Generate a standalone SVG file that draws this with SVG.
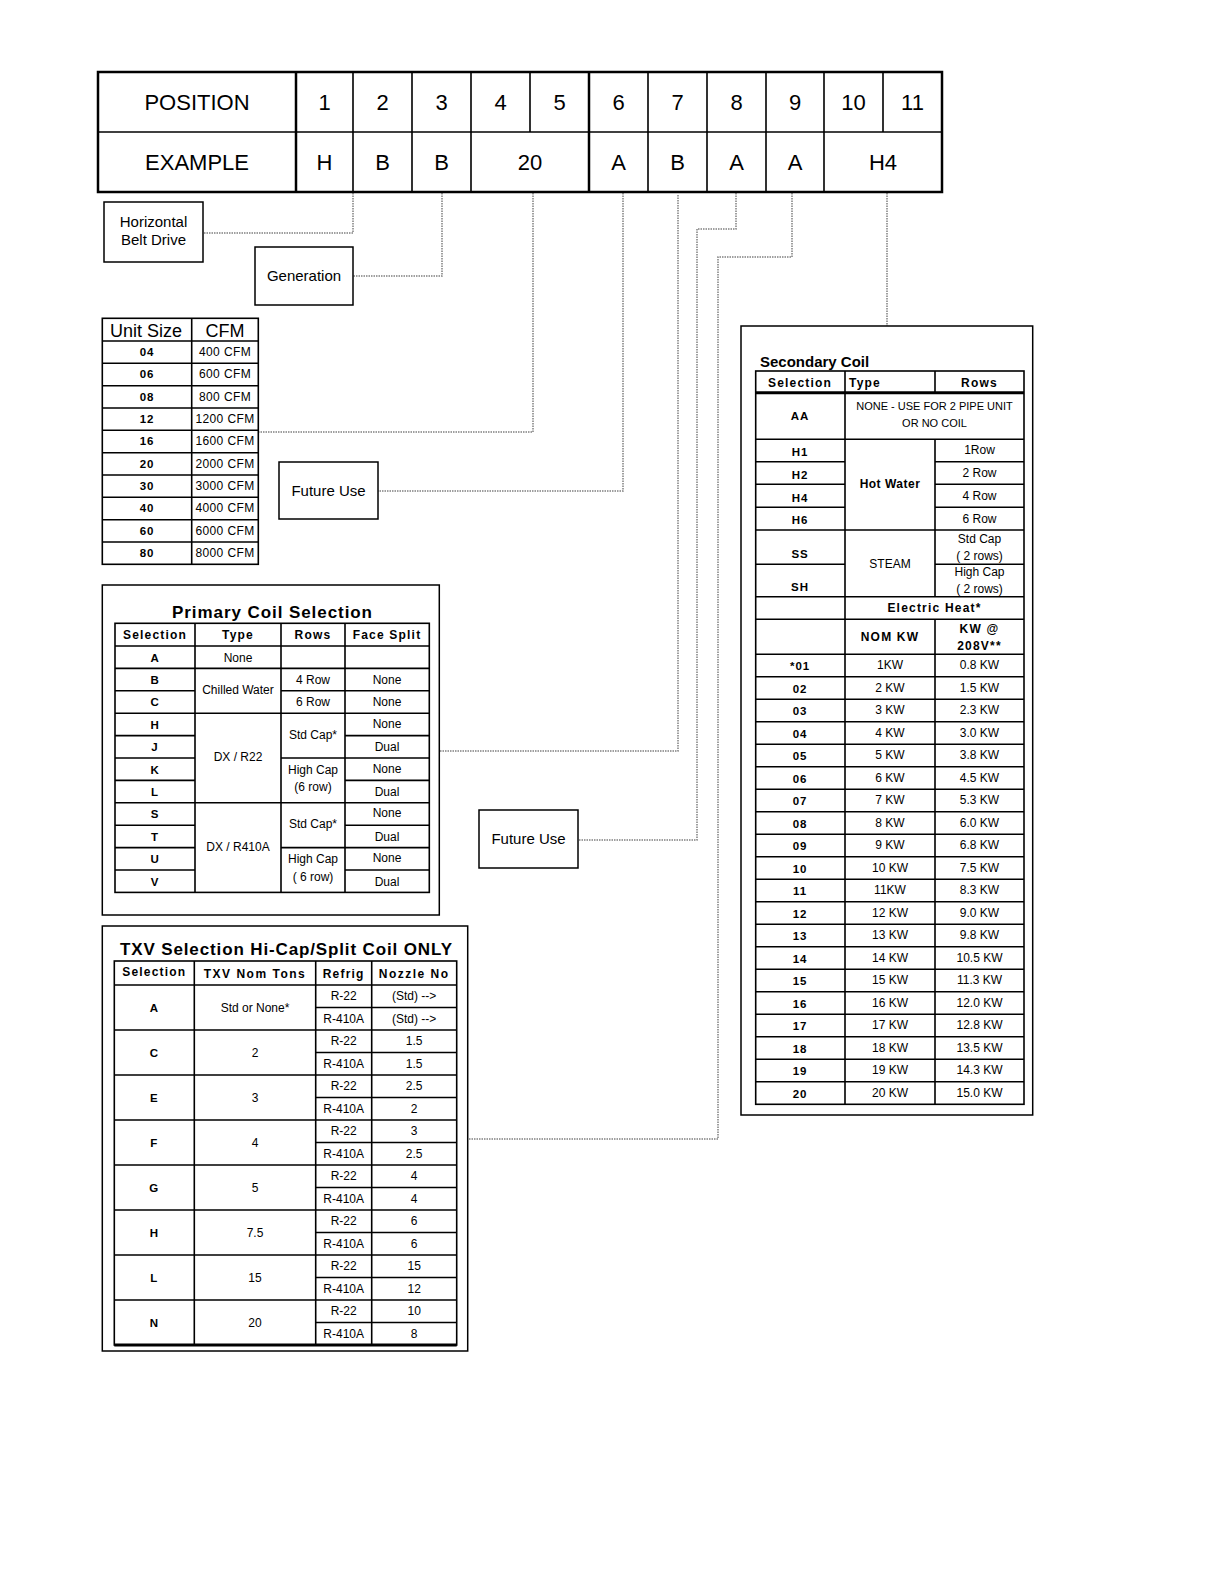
<svg xmlns="http://www.w3.org/2000/svg" width="1225" height="1585" viewBox="0 0 1225 1585">
<style>
text { font-family: "Liberation Sans", Arial, sans-serif; fill: #000; text-anchor: middle; }
.big { font-size: 22px; }
.box { font-size: 15px; }
.hdr { font-size: 12px; font-weight: bold; letter-spacing: 1.2px; }
.sel { font-size: 11.5px; font-weight: bold; letter-spacing: 0.9px; }
.d { font-size: 12px; }
.gray { fill: #555; }
.ttl { font-size: 17px; font-weight: bold; }
.frame { fill: none; stroke: #000; stroke-width: 1.5; }
.thick { fill: none; stroke: #000; stroke-width: 2.5; }
.g { fill: none; stroke: #000; stroke-width: 1.6; }
.conn { fill: none; stroke: #808080; stroke-width: 1.5; stroke-dasharray: 1.5 1; }
</style>

<g id="connectors">
  <path class="conn" d="M353,193 V233 H203"/>
  <path class="conn" d="M442,193 V276 H353"/>
  <path class="conn" d="M533,193 V432 H259"/>
  <path class="conn" d="M623,193 V491 H378"/>
  <path class="conn" d="M678,195 V751 H439"/>
  <path class="conn" d="M736,193 V229 H697 V840 H579"/>
  <path class="conn" d="M792,193 V257 H718 V1139 H468"/>
  <path class="conn" d="M887,193 V326"/>
</g>

<g id="position-table">
  <rect class="thick" x="98" y="72" width="844" height="120"/>
  <line class="g" x1="98" y1="132" x2="942" y2="132"/>
  <line class="thick" x1="296" y1="72" x2="296" y2="192"/>
  <line class="thick" x1="589" y1="72" x2="589" y2="192"/>
  <path class="g" d="M353,72 V192 M412,72 V192 M471,72 V192 M530,72 V132 M648,72 V192 M707,72 V192 M766,72 V192 M824,72 V192 M883,72 V132"/>
  <text class="big" x="197" y="110">POSITION</text>
  <text class="big" x="324.5" y="110">1</text>
  <text class="big" x="382.5" y="110">2</text>
  <text class="big" x="441.5" y="110">3</text>
  <text class="big" x="500.5" y="110">4</text>
  <text class="big" x="559.5" y="110">5</text>
  <text class="big" x="618.5" y="110">6</text>
  <text class="big" x="677.5" y="110">7</text>
  <text class="big" x="736.5" y="110">8</text>
  <text class="big" x="795" y="110">9</text>
  <text class="big" x="853.5" y="110">10</text>
  <text class="big" x="912.5" y="110">11</text>
  <text class="big" x="197" y="170">EXAMPLE</text>
  <text class="big" x="324.5" y="170">H</text>
  <text class="big" x="382.5" y="170">B</text>
  <text class="big" x="441.5" y="170">B</text>
  <text class="big" x="530" y="170">20</text>
  <text class="big" x="618.5" y="170">A</text>
  <text class="big" x="677.5" y="170">B</text>
  <text class="big" x="736.5" y="170">A</text>
  <text class="big" x="795" y="170">A</text>
  <text class="big" x="883" y="170">H4</text>
</g>

<g id="horizontal-belt-drive">
  <rect class="frame" x="104" y="202" width="99" height="60"/>
  <text class="box" x="153.5" y="227">Horizontal</text>
  <text class="box" x="153.5" y="245">Belt Drive</text>
</g>

<g id="generation">
  <rect class="frame" x="255" y="247" width="98" height="58"/>
  <text class="box" x="304" y="281">Generation</text>
</g>

<g id="future-use-1">
  <rect class="frame" x="279" y="462" width="99" height="57"/>
  <text class="box" x="328.5" y="496">Future Use</text>
</g>

<g id="future-use-2">
  <rect class="frame" x="479" y="810" width="99" height="58"/>
  <text class="box" x="528.5" y="844">Future Use</text>
</g>

<g id="unit-size-table">
  <rect class="g" x="102.3" y="318.3" width="156" height="246"/>
  <line class="g" x1="191.7" y1="318.3" x2="191.7" y2="564.3"/>
  <path class="g" d="M102.3,341 H258.3 M102.3,363.3 H258.3 M102.3,385.7 H258.3 M102.3,408 H258.3 M102.3,430.3 H258.3 M102.3,452.7 H258.3 M102.3,475 H258.3 M102.3,497.3 H258.3 M102.3,519.7 H258.3 M102.3,542 H258.3"/>
  <text x="146" y="337" style="font-size:18px">Unit Size</text>
  <text x="225" y="337" style="font-size:18px">CFM</text>
  <g class="sel">
    <text x="147" y="356">04</text>
    <text x="147" y="378.3">06</text>
    <text x="147" y="400.7">08</text>
    <text x="147" y="423">12</text>
    <text x="147" y="445.3">16</text>
    <text x="147" y="467.7">20</text>
    <text x="147" y="490">30</text>
    <text x="147" y="512.3">40</text>
    <text x="147" y="534.7">60</text>
    <text x="147" y="557">80</text>
  </g>
  <g class="d gray" style="letter-spacing:0.4px">
    <text x="225" y="356">400 CFM</text>
    <text x="225" y="378.3">600 CFM</text>
    <text x="225" y="400.7">800 CFM</text>
    <text x="225" y="423">1200 CFM</text>
    <text x="225" y="445.3">1600 CFM</text>
    <text x="225" y="467.7">2000 CFM</text>
    <text x="225" y="490">3000 CFM</text>
    <text x="225" y="512.3">4000 CFM</text>
    <text x="225" y="534.7">6000 CFM</text>
    <text x="225" y="557">8000 CFM</text>
  </g>
</g>

<g id="primary-coil">
  <rect class="frame" x="102.3" y="585" width="337" height="330"/>
  <text class="ttl" x="272" y="618" textLength="200">Primary Coil Selection</text>
  <rect class="g" x="115" y="623.3" width="314.3" height="269.1"/>
  <path class="g" d="M195,623.3 V892.4 M281,623.3 V892.4 M345,623.3 V892.4"/>
  <path class="g" d="M115,646 H429.3 M115,668.4 H429.3 M115,690.8 H195 M281,690.8 H429.3 M115,713.2 H429.3 M115,735.6 H195 M345,735.6 H429.3 M115,758 H195 M281,758 H429.3 M115,780.4 H195 M345,780.4 H429.3 M115,802.8 H429.3 M115,825.2 H195 M345,825.2 H429.3 M115,847.6 H195 M281,847.6 H429.3 M115,870 H195 M345,870 H429.3"/>
  <g class="hdr">
    <text x="155" y="639">Selection</text>
    <text x="238" y="639">Type</text>
    <text x="313" y="639">Rows</text>
    <text x="387" y="639">Face Split</text>
  </g>
  <g class="sel">
    <text x="155" y="661.5">A</text>
    <text x="155" y="683.9">B</text>
    <text x="155" y="706.3">C</text>
    <text x="155" y="728.7">H</text>
    <text x="155" y="751.1">J</text>
    <text x="155" y="773.5">K</text>
    <text x="155" y="795.9">L</text>
    <text x="155" y="818.3">S</text>
    <text x="155" y="840.7">T</text>
    <text x="155" y="863.1">U</text>
    <text x="155" y="885.5">V</text>
  </g>
  <g class="d">
    <text x="238" y="661.5">None</text>
    <text x="238" y="694">Chilled Water</text>
    <text x="238" y="761">DX / R22</text>
    <text x="238" y="851">DX / R410A</text>
    <text x="313" y="683.9">4 Row</text>
    <text x="313" y="706.3">6 Row</text>
    <text x="313" y="739">Std Cap*</text>
    <text x="313" y="774">High Cap</text>
    <text x="313" y="791">(6 row)</text>
    <text x="313" y="828">Std Cap*</text>
    <text x="313" y="863">High Cap</text>
    <text x="313" y="881">( 6 row)</text>
    <text x="387" y="683.9">None</text>
    <text x="387" y="706.3">None</text>
    <text x="387" y="727.5">None</text>
    <text x="387" y="751.1">Dual</text>
    <text x="387" y="772.5">None</text>
    <text x="387" y="795.9">Dual</text>
    <text x="387" y="817">None</text>
    <text x="387" y="840.7">Dual</text>
    <text x="387" y="862">None</text>
    <text x="387" y="885.5">Dual</text>
  </g>
</g>

<g id="txv-selection">
  <rect class="frame" x="102.3" y="926" width="365.4" height="425"/>
  <text class="ttl" x="286" y="955" textLength="332">TXV Selection Hi-Cap/Split Coil ONLY</text>
  <rect class="g" x="114.3" y="961" width="342.4" height="384"/>
  <line x1="114.3" y1="1345" x2="456.7" y2="1345" stroke="#000" stroke-width="3"/>
  <path class="g" d="M194.3,961 V1345 M315.7,961 V1345 M371.7,961 V1345"/>
  <path class="g" d="M114.3,985 H456.7 M114.3,1030 H456.7 M114.3,1075 H456.7 M114.3,1120 H456.7 M114.3,1165 H456.7 M114.3,1210 H456.7 M114.3,1255 H456.7 M114.3,1300 H456.7"/>
  <path class="g" d="M315.7,1007.5 H456.7 M315.7,1052.5 H456.7 M315.7,1097.5 H456.7 M315.7,1142.5 H456.7 M315.7,1187.5 H456.7 M315.7,1232.5 H456.7 M315.7,1277.5 H456.7 M315.7,1322.5 H456.7"/>
  <g class="hdr">
    <text x="154.3" y="976">Selection</text>
    <text x="255" y="978" style="letter-spacing:1.5px">TXV Nom Tons</text>
    <text x="343.7" y="978">Refrig</text>
    <text x="414.2" y="978" style="letter-spacing:1.5px">Nozzle No</text>
  </g>
  <g class="sel">
    <text x="154.3" y="1011.5">A</text>
    <text x="154.3" y="1056.5">C</text>
    <text x="154.3" y="1101.5">E</text>
    <text x="154.3" y="1146.5">F</text>
    <text x="154.3" y="1191.5">G</text>
    <text x="154.3" y="1236.5">H</text>
    <text x="154.3" y="1281.5">L</text>
    <text x="154.3" y="1326.5">N</text>
  </g>
  <g class="d">
    <text x="255" y="1011.5">Std or None*</text>
    <text x="255" y="1056.5">2</text>
    <text x="255" y="1101.5">3</text>
    <text x="255" y="1146.5">4</text>
    <text x="255" y="1191.5">5</text>
    <text x="255" y="1236.5">7.5</text>
    <text x="255" y="1281.5">15</text>
    <text x="255" y="1326.5">20</text>
    <text x="343.7" y="1000">R-22</text>
    <text x="343.7" y="1022.5">R-410A</text>
    <text x="343.7" y="1045">R-22</text>
    <text x="343.7" y="1067.5">R-410A</text>
    <text x="343.7" y="1090">R-22</text>
    <text x="343.7" y="1112.5">R-410A</text>
    <text x="343.7" y="1135">R-22</text>
    <text x="343.7" y="1157.5">R-410A</text>
    <text x="343.7" y="1180">R-22</text>
    <text x="343.7" y="1202.5">R-410A</text>
    <text x="343.7" y="1225">R-22</text>
    <text x="343.7" y="1247.5">R-410A</text>
    <text x="343.7" y="1270">R-22</text>
    <text x="343.7" y="1292.5">R-410A</text>
    <text x="343.7" y="1315">R-22</text>
    <text x="343.7" y="1337.5">R-410A</text>
    <text x="414.2" y="1000">(Std) --&gt;</text>
    <text x="414.2" y="1022.5">(Std) --&gt;</text>
    <text x="414.2" y="1045">1.5</text>
    <text x="414.2" y="1067.5">1.5</text>
    <text x="414.2" y="1090">2.5</text>
    <text x="414.2" y="1112.5">2</text>
    <text x="414.2" y="1135">3</text>
    <text x="414.2" y="1157.5">2.5</text>
    <text x="414.2" y="1180">4</text>
    <text x="414.2" y="1202.5">4</text>
    <text x="414.2" y="1225">6</text>
    <text x="414.2" y="1247.5">6</text>
    <text x="414.2" y="1270">15</text>
    <text x="414.2" y="1292.5">12</text>
    <text x="414.2" y="1315">10</text>
    <text x="414.2" y="1337.5">8</text>
  </g>
</g>

<g id="secondary-coil">
  <rect class="frame" x="741" y="326" width="291.7" height="789"/>
  <text x="760" y="367" style="font-size:15px;font-weight:bold;text-anchor:start">Secondary Coil</text>
  <rect class="g" x="755.7" y="371" width="268.3" height="733.3"/>
  <line x1="755.7" y1="392.7" x2="1024" y2="392.7" stroke="#000" stroke-width="3"/>
  <path class="g" d="M845,371 V1104.3 M935,371 V392.7 M935,439.3 V596.7 M935,619.3 V1104.3"/>
  <path class="g" d="M755.7,439.3 H1024 M755.7,461.7 H845 M935,461.7 H1024 M755.7,484.3 H845 M935,484.3 H1024 M755.7,507.3 H845 M935,507.3 H1024 M755.7,530 H1024 M755.7,564.3 H845 M935,564.3 H1024 M755.7,596.7 H1024 M755.7,619.3 H1024 M755.7,654.3 H1024"/>
  <path class="g" d="M755.7,676.8 H1024 M755.7,699.3 H1024 M755.7,721.8 H1024 M755.7,744.3 H1024 M755.7,766.8 H1024 M755.7,789.3 H1024 M755.7,811.8 H1024 M755.7,834.3 H1024 M755.7,856.8 H1024 M755.7,879.3 H1024 M755.7,901.8 H1024 M755.7,924.3 H1024 M755.7,946.8 H1024 M755.7,969.3 H1024 M755.7,991.8 H1024 M755.7,1014.3 H1024 M755.7,1036.8 H1024 M755.7,1059.3 H1024 M755.7,1081.8 H1024"/>
  <g class="hdr">
    <text x="800" y="387">Selection</text>
    <text x="849" y="387" style="text-anchor:start">Type</text>
    <text x="979.5" y="387">Rows</text>
    <text x="934.5" y="612">Electric Heat*</text>
    <text x="890" y="641">NOM KW</text>
    <text x="979.5" y="633">KW @</text>
    <text x="979.5" y="650">208V**</text>
  </g>
  <g class="d gray" style="font-size:11px">
    <text x="934.5" y="410">NONE - USE FOR 2 PIPE UNIT</text>
    <text x="934.5" y="427">OR NO COIL</text>
  </g>
  <g class="sel">
    <text x="800" y="420">AA</text>
    <text x="800" y="456">H1</text>
    <text x="800" y="478.5">H2</text>
    <text x="800" y="501.5">H4</text>
    <text x="800" y="524">H6</text>
    <text x="800" y="558">SS</text>
    <text x="800" y="591">SH</text>
    <text x="800" y="670">*01</text>
    <text x="800" y="692.5">02</text>
    <text x="800" y="715">03</text>
    <text x="800" y="737.5">04</text>
    <text x="800" y="760">05</text>
    <text x="800" y="782.5">06</text>
    <text x="800" y="805">07</text>
    <text x="800" y="827.5">08</text>
    <text x="800" y="850">09</text>
    <text x="800" y="872.5">10</text>
    <text x="800" y="895">11</text>
    <text x="800" y="917.5">12</text>
    <text x="800" y="940">13</text>
    <text x="800" y="962.5">14</text>
    <text x="800" y="985">15</text>
    <text x="800" y="1007.5">16</text>
    <text x="800" y="1030">17</text>
    <text x="800" y="1052.5">18</text>
    <text x="800" y="1075">19</text>
    <text x="800" y="1097.5">20</text>
  </g>
  <g class="d">
    <text x="890" y="488" style="font-weight:bold;letter-spacing:0.5px">Hot Water</text>
    <text x="890" y="568">STEAM</text>
    <text x="979.5" y="454">1Row</text>
    <text x="979.5" y="477">2 Row</text>
    <text x="979.5" y="500">4 Row</text>
    <text x="979.5" y="522.5">6 Row</text>
    <text x="979.5" y="543">Std Cap</text>
    <text x="979.5" y="560">( 2 rows)</text>
    <text x="979.5" y="576">High Cap</text>
    <text x="979.5" y="593">( 2 rows)</text>
    <text x="890" y="669">1KW</text>
    <text x="890" y="691.5">2 KW</text>
    <text x="890" y="714">3 KW</text>
    <text x="890" y="736.5">4 KW</text>
    <text x="890" y="759">5 KW</text>
    <text x="890" y="781.5">6 KW</text>
    <text x="890" y="804">7 KW</text>
    <text x="890" y="826.5">8 KW</text>
    <text x="890" y="849">9 KW</text>
    <text x="890" y="871.5">10 KW</text>
    <text x="890" y="894">11KW</text>
    <text x="890" y="916.5">12 KW</text>
    <text x="890" y="939">13 KW</text>
    <text x="890" y="961.5">14 KW</text>
    <text x="890" y="984">15 KW</text>
    <text x="890" y="1006.5">16 KW</text>
    <text x="890" y="1029">17 KW</text>
    <text x="890" y="1051.5">18 KW</text>
    <text x="890" y="1074">19 KW</text>
    <text x="890" y="1096.5">20 KW</text>
    <text x="979.5" y="669">0.8 KW</text>
    <text x="979.5" y="691.5">1.5 KW</text>
    <text x="979.5" y="714">2.3 KW</text>
    <text x="979.5" y="736.5">3.0 KW</text>
    <text x="979.5" y="759">3.8 KW</text>
    <text x="979.5" y="781.5">4.5 KW</text>
    <text x="979.5" y="804">5.3 KW</text>
    <text x="979.5" y="826.5">6.0 KW</text>
    <text x="979.5" y="849">6.8 KW</text>
    <text x="979.5" y="871.5">7.5 KW</text>
    <text x="979.5" y="894">8.3 KW</text>
    <text x="979.5" y="916.5">9.0 KW</text>
    <text x="979.5" y="939">9.8 KW</text>
    <text x="979.5" y="961.5">10.5 KW</text>
    <text x="979.5" y="984">11.3 KW</text>
    <text x="979.5" y="1006.5">12.0 KW</text>
    <text x="979.5" y="1029">12.8 KW</text>
    <text x="979.5" y="1051.5">13.5 KW</text>
    <text x="979.5" y="1074">14.3 KW</text>
    <text x="979.5" y="1096.5">15.0 KW</text>
  </g>
</g>
</svg>
